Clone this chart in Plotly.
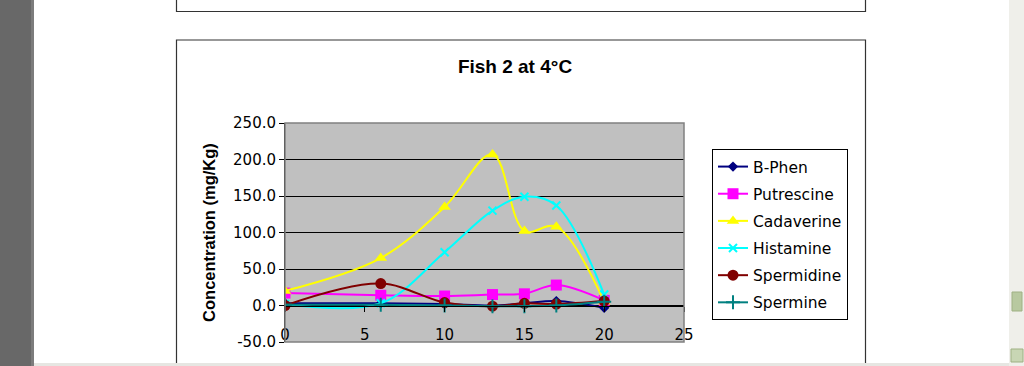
import plotly.graph_objects as go

# ---- data ----
days = [0, 6, 10, 13, 15, 17, 20]
b_phen = [3, 3, 2, 0, 3, 6, -3]
putrescine = [17, 14, 13, 15, 16, 28, 7]
cadaverine = [20, 65, 135, 207, 102, 108, 5]
histamine = [2, 3, 73, 130, 149, 137, 15]
spermidine = [0, 30, 4, -1, 3, 2, 6]
spermine = [1, 1, 0, -1, -1, 0, 5]

series_names = ["B-Phen", "Putrescine", "Cadaverine", "Histamine", "Spermidine", "Spermine"]
series_values = [b_phen, putrescine, cadaverine, histamine, spermidine, spermine]

y_tickvals = [-50, 0, 50, 100, 150, 200, 250]
y_ticktext = ["-50.0", "0.0", "50.0", "100.0", "150.0", "200.0", "250.0"]
x_tickvals = [0, 5, 10, 15, 20, 25]

title_text = "Fish 2 at 4°C"
y_title = "Concentration (mg/Kg)"

# ---- styles ----
colors = ["#000080", "#FF00FF", "#FFFF00", "#00FFFF", "#800000", "#008080"]
symbols = ["diamond", "square", "triangle-up", "x-thin", "circle", "cross-thin"]
msizes = [8, 11, 11, 8, 11, 10]

W, H = 1024, 366
L, R, T, B = 285, 684, 123, 342  # plot area in pixels


def px(x):
    return (x - L) / (R - L)


def py(y):
    return (B - y) / (B - T)


fig = go.Figure()
for i, (name, vals) in enumerate(zip(series_names, series_values)):
    thin = symbols[i].endswith("-thin")
    fig.add_trace(go.Scatter(
        x=days, y=vals, name=name, mode="lines+markers",
        line=dict(color=colors[i], width=2, shape="spline", smoothing=1),
        marker=dict(symbol=symbols[i], size=msizes[i], color=colors[i],
                    line=dict(color=colors[i], width=2 if thin else 0)),
        legendgroup=name,
    ))

shapes = []
# left dark strip of the viewer
shapes.append(dict(type="rect", xref="paper", yref="paper", x0=px(0), x1=px(31), y0=py(366), y1=py(0),
                   fillcolor="#686868", line_width=0, layer="below"))
shapes.append(dict(type="rect", xref="paper", yref="paper", x0=px(31), x1=px(34), y0=py(366), y1=py(0),
                   fillcolor="#7c7c7c", line_width=0, layer="below"))
# previous chart bottom border
shapes.append(dict(type="rect", xref="paper", yref="paper", x0=px(176.5), x1=px(865.5), y0=py(11.5), y1=py(-20),
                   line=dict(color="#333333", width=1.2), layer="below"))
# current chart border
shapes.append(dict(type="rect", xref="paper", yref="paper", x0=px(176.5), x1=px(865.5), y0=py(380), y1=py(40),
                   line=dict(color="#333333", width=1.2), layer="below"))
# plot area border
shapes.append(dict(type="rect", xref="paper", yref="paper", x0=0, x1=1, y0=0, y1=1,
                   line=dict(color="#808080", width=1.5), layer="above"))
# right scrollbar
shapes.append(dict(type="rect", xref="paper", yref="paper", x0=px(1009), x1=px(1024), y0=py(366), y1=py(0),
                   fillcolor="#efefea", line_width=0, layer="below"))
shapes.append(dict(type="rect", xref="paper", yref="paper", x0=px(1012), x1=px(1022), y0=py(311), y1=py(292),
                   fillcolor="#b8c9a0", line=dict(color="#9fb184", width=1), layer="below"))
shapes.append(dict(type="rect", xref="paper", yref="paper", x0=px(1011), x1=px(1023), y0=py(362), y1=py(349),
                   fillcolor="#c8d6b4", line=dict(color="#9fb184", width=1), layer="below"))
# bottom scrollbar edge
shapes.append(dict(type="rect", xref="paper", yref="paper", x0=px(34), x1=px(1009), y0=py(366), y1=py(363),
                   fillcolor="#e6e6e2", line_width=0, layer="below"))

fig.update_layout(
    width=W, height=H,
    margin=dict(l=L, r=W - R, t=T, b=H - B, pad=0),
    paper_bgcolor="white",
    plot_bgcolor="#c0c0c0",
    font=dict(family="DejaVu Sans", size=14, color="black"),
    title=dict(text="<b>" + title_text + "</b>", x=515 / W, xref="container",
               xanchor="center", y=1 - 66 / H, yref="container", yanchor="middle",
               font=dict(family="Liberation Sans", size=19, color="black")),
    xaxis=dict(range=[0, 25], tickvals=x_tickvals, anchor="free", position=50 / 300,
               showline=True, linecolor="black", linewidth=1, ticks="outside", ticklen=5,
               tickcolor="black", showgrid=False, zeroline=False,
               ticklabelstandoff=10, tickfont=dict(family="DejaVu Sans", size=15)),
    yaxis=dict(range=[-50, 250], tickvals=y_tickvals, ticktext=y_ticktext,
               showline=True, linecolor="black", linewidth=1, ticks="outside", ticklen=5,
               tickcolor="black", showgrid=True, gridcolor="black", gridwidth=1, zeroline=False,
               tickfont=dict(family="DejaVu Sans", size=15),
               title=dict(text="<b>" + y_title + "</b>", standoff=13,
                          font=dict(family="Liberation Sans", size=16.5))),
    legend=dict(x=px(712), y=py(149), xanchor="left", yanchor="top",
                bordercolor="black", borderwidth=1, bgcolor="white",
                font=dict(family="DejaVu Sans", size=15.5), tracegroupgap=4,
                itemclick=False),
    showlegend=True,
    shapes=shapes,
)

fig.write_html("out.html", config={"displayModeBar": False},
               post_script="document.body.style.margin='0';document.body.style.overflow='hidden';")
